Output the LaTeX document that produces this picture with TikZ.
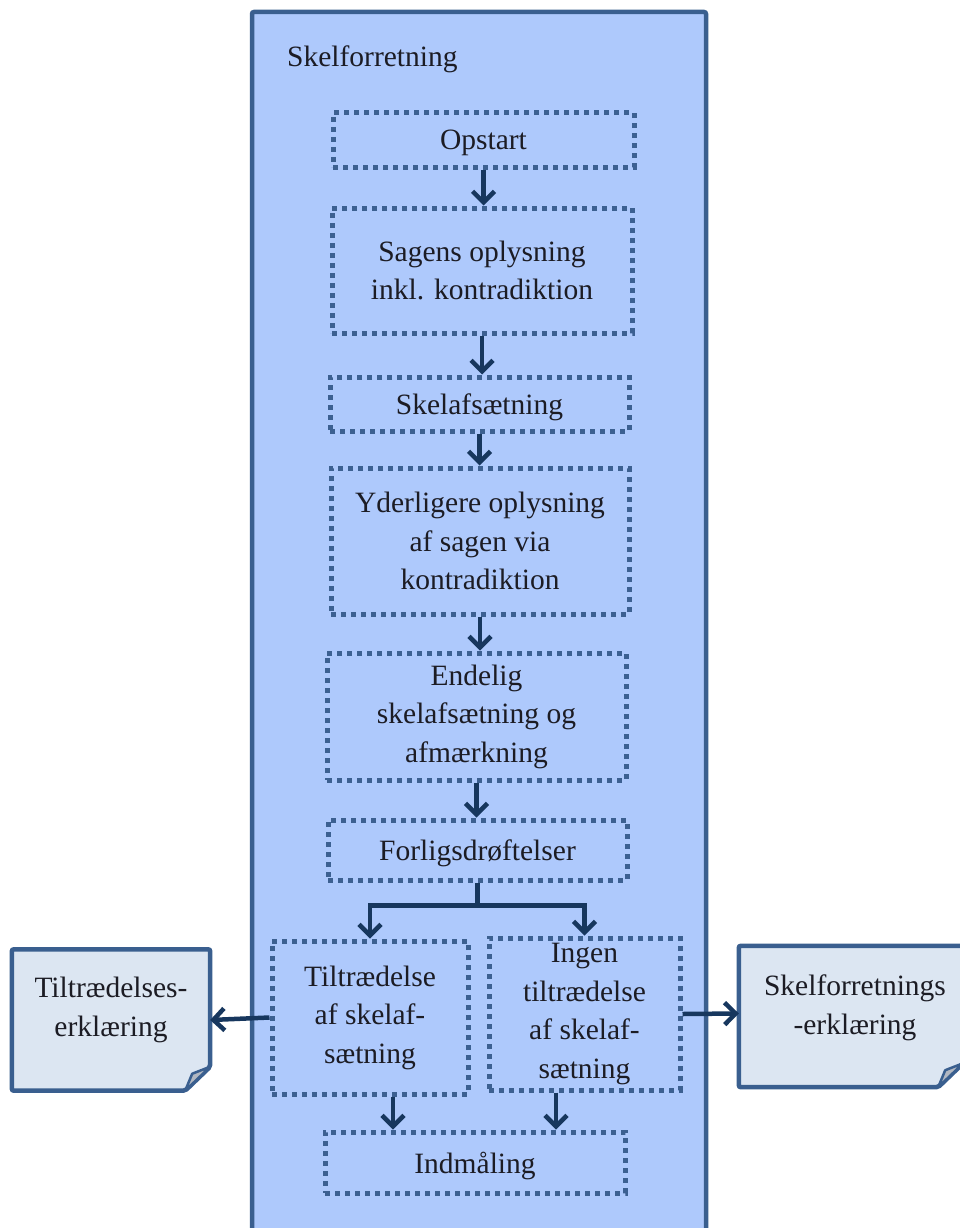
\documentclass[tikz,border=0pt]{standalone}
\usepackage{fontspec}
\setmainfont{Liberation Serif}
\usetikzlibrary{arrows.meta,backgrounds}
\definecolor{framefill}{RGB}{174,201,252}
\definecolor{frameline}{RGB}{58,95,143}
\definecolor{dotline}{RGB}{60,96,145}
\definecolor{arrowc}{RGB}{23,55,94}
\definecolor{docfill}{RGB}{220,230,242}
\definecolor{foldfill}{RGB}{178,184,194}
\definecolor{txt}{RGB}{28,28,36}
\newcommand{\lowertxt}[1]{\raisebox{-3pt}[\height][\depth]{#1}}
\tikzset{
  container/.style={draw=frameline, fill=framefill, line width=4.5pt, rounded corners=2pt, inner sep=0pt},
  stepbox/.style={draw=dotline, line width=5pt, dash pattern=on 5pt off 5pt, inner sep=0pt, align=center,
     font=\fontsize{29.5}{38.5}\selectfont, text=txt},
  docnode/.style={inner sep=0pt, minimum width=#1, minimum height=141pt},
  doclabel/.style={inner sep=0pt, align=center, font=\fontsize{29.5}{38.5}\selectfont, text=txt},
  docshape/.style={draw=frameline, fill=docfill, line width=4.5pt, rounded corners=2pt},
  foldshape/.style={draw=frameline, fill=foldfill, line width=2.5pt, line join=round},
  arr/.style={draw=arrowc, line width=4.5pt, -{Straight Barb[length=11pt,width=22pt,line width=4.5pt]}},
  link/.style={draw=arrowc, line width=4.5pt},
  titletext/.style={anchor=west, inner sep=0pt, font=\fontsize{29.5}{38.5}\selectfont, text=txt}
}
\begin{document}
\begin{tikzpicture}[x=1pt,y=-1pt]
\useasboundingbox (0,0) rectangle (960,1228);
% container
\node (frame) [container, minimum width=454pt, minimum height=1238pt] at (479,631) {};
\node (title) [titletext] at (287,59) {Skelforretning};
% steps
\node (opstart) [stepbox, minimum width=301pt, minimum height=54pt] at (483.5,140) {\lowertxt{Opstart}};
\node (sagens) [stepbox, minimum width=300pt, minimum height=125pt] at (482,270.5) {Sagens oplysning\\inkl. kontradiktion};
\node (skelaf) [stepbox, minimum width=299pt, minimum height=54pt] at (479.5,404) {\lowertxt{Skelafsætning}};
\node (yderl) [stepbox, minimum width=298pt, minimum height=146pt] at (480,541) {Yderligere oplysning\\af sagen via\\kontradiktion};
\node (endelig) [stepbox, minimum width=299pt, minimum height=127pt] at (476.5,716.5) {Endelig\\skelafsætning og\\afmærkning};
\node (forlig) [stepbox, minimum width=299pt, minimum height=60pt] at (477.5,850) {\lowertxt{Forligsdrøftelser}};
\node (tilt) [stepbox, minimum width=196pt, minimum height=153pt] at (370,1017.5) {Tiltrædelse\\af skelaf-\\sætning};
\node (ingen) [stepbox, minimum width=191pt, minimum height=152pt] at (584.5,1014) {Ingen\\tiltrædelse\\af skelaf-\\sætning};
\node (indm) [stepbox, minimum width=300pt, minimum height=61pt] at (475,1162.5) {\lowertxt{Indmåling}};
% documents
\node (tdoc) [docnode=198pt] at (111,1020) {};
\node (sdoc) [docnode=224pt] at (851,1016.5) {};
\begin{scope}[on background layer]
  \foreach \d in {tdoc,sdoc}{
    \draw[docshape] (\d.north west) -- (\d.north east) -- ([yshift=24pt]\d.south east)
       -- ([xshift=-25pt]\d.south east) -- (\d.south west) -- cycle;
    \draw[foldshape] ([yshift=24pt]\d.south east) -- ([xshift=-25pt]\d.south east)
       -- ([xshift=-18pt,yshift=17pt]\d.south east) -- cycle;
  }
\end{scope}
\node (tdoclbl) [doclabel] at (111,1010) {Tiltrædelses-\\erklæring};
\node (sdoclbl) [doclabel] at (855,1008) {Skelforretnings\\-erklæring};
% connectors
\draw[arr] (opstart.south) -- (opstart.south |- sagens.north);
\draw[arr] (sagens.south) -- (sagens.south |- skelaf.north);
\draw[arr] (skelaf.south) -- (skelaf.south |- yderl.north);
\draw[arr] (yderl.south) -- (yderl.south |- endelig.north);
\draw[arr] (endelig.south) -- (endelig.south |- forlig.north);
\coordinate (split) at ([yshift=-23pt]forlig.south);
\draw[link] (forlig.south) -- (split);
\draw[arr] (split) -| (tilt.north);
\draw[arr] (split) -| (ingen.north);
\draw[arr] ([xshift=23pt]tilt.south) -- ([xshift=23pt]tilt.south |- indm.north);
\draw[arr] ([xshift=-28.5pt]ingen.south) -- ([xshift=-28.5pt]ingen.south |- indm.north);
\draw[arr] (tilt.west) -- (tdoc.east);
\draw[arr] (ingen.east) -- ([yshift=3pt]sdoc.west);
\end{tikzpicture}
\end{document}
